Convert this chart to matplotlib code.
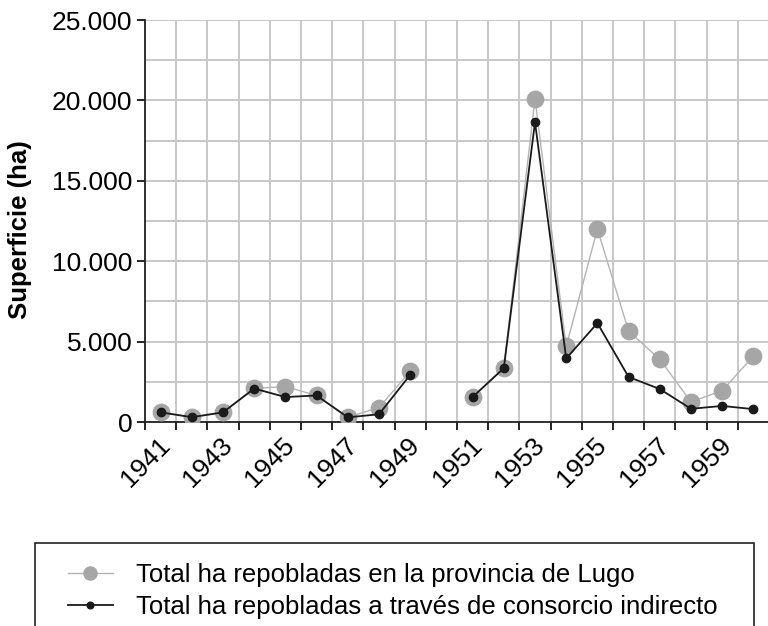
import numpy as np
import matplotlib.pyplot as plt
from matplotlib.ticker import FixedLocator, FuncFormatter
from matplotlib.patches import Rectangle
import matplotlib.transforms as mtransforms

plt.rcParams['font.family'] = ['Liberation Sans', 'DejaVu Sans']

years = list(range(1941, 1961))
lugo = [600, 300, 600, 2100, 2200, 1650, 290, 900, 3150, np.nan,
        1550, 3350, 20100, 4700, 12000, 5650, 3900, 1250, 1950, 4100]
consorcio = [600, 300, 600, 2080, 1550, 1650, 290, 480, 2930, np.nan,
             1550, 3350, 18650, 3950, 6150, 2800, 2050, 820, 1000, 800]
label_lugo = 'Total ha repobladas en la provincia de Lugo'
label_cons = 'Total ha repobladas a través de consorcio indirecto'

W, H = 768, 626
fig = plt.figure(figsize=(W / 100, H / 100), dpi=100)
ax = fig.add_axes([145 / W, 1 - 422 / H, 624 / W, 402 / H])

x = np.arange(1, len(years) + 1)
ax.plot(x, lugo, color='#b4b4b4', lw=1.0, marker='o', ms=11.8,
        mfc='#a6a6a6', mec='#a6a6a6', label=label_lugo, zorder=3)
ax.plot(x, consorcio, color='#1a1a1a', lw=1.3, marker='o', ms=6,
        mfc='#1a1a1a', mec='#1a1a1a', label=label_cons, zorder=4)

ax.set_xlim(0.5, len(years) + 0.5)
ax.set_ylim(0, 25000)

# category axis: labels every other year, ticks on boundaries
ax.xaxis.set_major_locator(FixedLocator(x[::2]))
ax.set_xticklabels([str(y) for y in years[::2]], rotation=45, ha='right',
                   fontsize=19)
ax.xaxis.set_minor_locator(FixedLocator(np.arange(0.5, len(years) + 1, 1)))
ax.tick_params(axis='x', which='major', length=0, pad=8)
ax.tick_params(axis='x', which='minor', length=6, width=1.2, direction='out')
offset = mtransforms.ScaledTranslation(14 / 100, 0, fig.dpi_scale_trans)
for lab in ax.get_xticklabels():
    lab.set_transform(lab.get_transform() + offset)

ax.yaxis.set_major_locator(FixedLocator(np.arange(0, 25001, 5000)))
ax.yaxis.set_minor_locator(FixedLocator(np.arange(2500, 25000, 5000)))
ax.yaxis.set_major_formatter(FuncFormatter(
    lambda v, p: '0' if v == 0 else f'{int(v):,}'.replace(',', '.')))
ax.tick_params(axis='y', which='major', length=6, width=1.2, labelsize=19,
               pad=3)
ax.tick_params(axis='y', which='minor', length=0)

ax.grid(True, which='minor', axis='x', color='#c8c8c8', lw=1.4)
ax.grid(True, which='both', axis='y', color='#c8c8c8', lw=1.4)
ax.set_axisbelow(True)
for s in ['top', 'right']:
    ax.spines[s].set_visible(False)
for s in ['left', 'bottom']:
    ax.spines[s].set_linewidth(1.3)
    ax.spines[s].set_color('#222222')

ax.set_ylabel('Superficie (ha)', fontsize=18.5, fontweight='bold')
ax.yaxis.set_label_coords((32 - 145) / 624, 1 - (230 - 20) / 402)

# legend box, cut by the bottom edge like the reference
fig.patches.append(Rectangle((35 / W, -0.05), 719 / W, 1 - 543 / H + 0.05,
                             transform=fig.transFigure, fill=False,
                             edgecolor='#222222', lw=1.2))
fig.legend(loc='upper left', bbox_to_anchor=(68 / W, 1 - 563 / H),
           fontsize=18.5, frameon=False, handlelength=1.75,
           handletextpad=0.9, labelspacing=0.32, borderpad=0,
           borderaxespad=0, markerscale=0.8)

fig.savefig('out.png', dpi=100)
